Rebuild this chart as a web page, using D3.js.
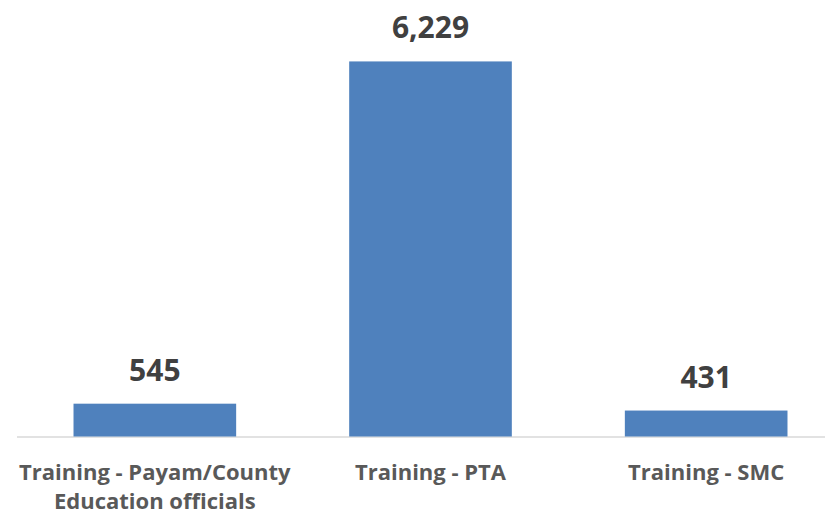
<!DOCTYPE html>
<meta charset='utf-8'>
<style>
body { margin: 0; background: #fff; }
.value { font-family: 'Open Sans'; font-weight: bold; font-size: 30px; fill: #404040; }
.cat { font-family: 'Open Sans'; font-weight: bold; font-size: 22px; fill: #595959; }
</style>
<svg width='825' height='514'></svg>
<script src='https://d3js.org/d3.v7.min.js'></script>
<script>

var categories = [
  ['Training - Payam/County', 'Education officials'],
  ['Training - PTA'],
  ['Training - SMC']
];
var values = [545, 6229, 431];

var svg = d3.select('svg'),
    width = +svg.attr('width'),
    height = +svg.attr('height');

var x = d3.scaleBand()
  .domain(d3.range(values.length))
  .range([17, 844])
  .paddingInner(0.41)
  .paddingOuter(0.205);

var y = d3.scaleLinear()
  .domain([0, 7000])
  .range([436.5, 15]);

// axis baseline
svg.append('line')
  .attr('x1', 17)
  .attr('x2', width)
  .attr('y1', 437)
  .attr('y2', 437)
  .attr('stroke', '#d9d9d9')
  .attr('stroke-width', 1.5);

svg.selectAll('.bar')
  .data(values)
  .enter().append('rect')
    .attr('class', 'bar')
    .attr('x', (d, i) => x(i))
    .attr('width', x.bandwidth())
    .attr('y', d => y(d))
    .attr('height', d => y(0) - y(d))
    .attr('fill', '#4f81bd');

svg.selectAll('.value')
  .data(values)
  .enter().append('text')
    .attr('class', 'value')
    .attr('x', (d, i) => x(i) + x.bandwidth() / 2)
    .attr('y', d => y(d) - 23)
    .attr('text-anchor', 'middle')
    .text(d => d3.format(',')(d));

// category labels, wrapped by hand
var cat = svg.selectAll('.cat')
  .data(categories)
  .enter().append('text')
    .attr('class', 'cat')
    .attr('text-anchor', 'middle')
    .attr('x', (d, i) => x(i) + x.bandwidth() / 2)
    .attr('y', 480);

cat.selectAll('tspan')
  .data(d => d)
  .enter().append('tspan')
    .attr('x', function() { return this.parentNode.getAttribute('x'); })
    .attr('dy', (d, i) => i ? 29 : 0)
    .text(d => d);

</script>
